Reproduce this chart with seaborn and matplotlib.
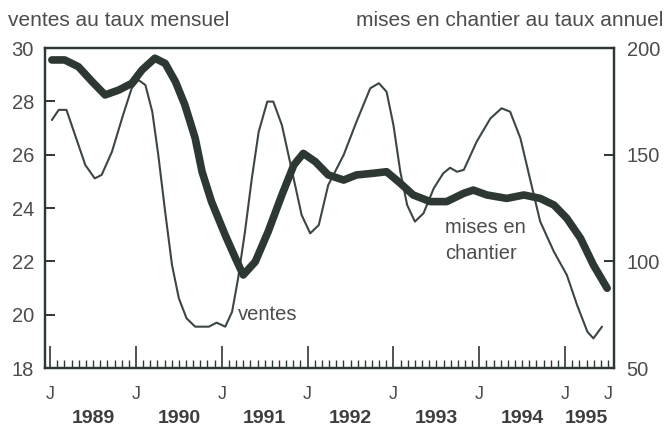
import numpy as np
import pandas as pd
import matplotlib
matplotlib.use("Agg")
import matplotlib.pyplot as plt
import matplotlib.ticker as mticker
import matplotlib.transforms as mtrans
import seaborn as sns

# -------------------------
# Données (années décimales)
# -------------------------
ventes_t = [1989.02, 1989.10, 1989.19, 1989.29, 1989.41, 1989.52, 1989.60, 1989.72,
            1989.85, 1989.95, 1990.03, 1990.11, 1990.19, 1990.26, 1990.34, 1990.42,
            1990.50, 1990.59, 1990.69, 1990.85, 1990.94, 1991.04, 1991.12, 1991.19,
            1991.27, 1991.35, 1991.43, 1991.53, 1991.60, 1991.70, 1991.82, 1991.93,
            1992.03, 1992.13, 1992.24, 1992.42, 1992.57, 1992.73, 1992.83, 1992.92,
            1993.00, 1993.08, 1993.16, 1993.25, 1993.35, 1993.47, 1993.58, 1993.66,
            1993.74, 1993.82, 1993.97, 1994.13, 1994.26, 1994.36, 1994.48, 1994.59,
            1994.71, 1994.87, 1995.02, 1995.14, 1995.26, 1995.33, 1995.43]
ventes = [27.30, 27.68, 27.68, 26.74, 25.61, 25.11, 25.24, 26.11,
          27.49, 28.49, 28.80, 28.61, 27.61, 25.99, 23.86, 21.86,
          20.61, 19.86, 19.55, 19.55, 19.70, 19.55, 20.11, 21.36,
          23.11, 25.11, 26.86, 27.99, 27.99, 27.11, 25.36, 23.74,
          23.05, 23.36, 24.86, 25.99, 27.24, 28.49, 28.68, 28.36,
          27.11, 25.36, 24.11, 23.49, 23.80, 24.74, 25.30, 25.51,
          25.36, 25.43, 26.49, 27.36, 27.74, 27.61, 26.61, 25.11,
          23.49, 22.36, 21.49, 20.36, 19.36, 19.11, 19.55]

mises_t = [1989.02, 1989.17, 1989.33, 1989.49, 1989.64, 1989.80, 1989.95, 1990.07,
           1990.22, 1990.34, 1990.46, 1990.57, 1990.69, 1990.77, 1990.88, 1991.04,
           1991.16, 1991.25, 1991.39, 1991.54, 1991.70, 1991.84, 1991.95, 1992.09,
           1992.24, 1992.42, 1992.57, 1992.77, 1992.92, 1993.08, 1993.23, 1993.43,
           1993.62, 1993.82, 1993.93, 1994.09, 1994.32, 1994.52, 1994.71, 1994.87,
           1995.02, 1995.18, 1995.33, 1995.49]
mises = [194.4, 194.4, 191.2, 184.2, 178.0, 180.3, 183.4, 189.7,
         195.2, 192.8, 184.2, 173.3, 157.7, 142.0, 128.0, 112.3,
         101.4, 93.6, 99.8, 113.9, 131.1, 145.2, 150.6, 146.7,
         140.5, 138.1, 140.5, 141.3, 142.0, 136.6, 131.1, 128.0,
         128.0, 131.9, 133.4, 131.1, 129.5, 131.1, 129.5, 126.4,
         120.2, 110.8, 98.3, 87.4]

ventes_ticks = [18, 20, 22, 24, 26, 28, 30]
mises_ticks = [50, 100, 150, 200]
annees = ["1989", "1990", "1991", "1992", "1993", "1994", "1995"]
annees_pos = [1989.5, 1990.5, 1991.5, 1992.5, 1993.5, 1994.5, 1995.25]
j_pos = [1989, 1990, 1991, 1992, 1993, 1994, 1995, 1995.5]

# -------------------------
# Style
# -------------------------
sns.set_theme(style="ticks")
plt.rcParams['font.family'] = ['Liberation Sans', 'DejaVu Sans']

LIGNE = "#2e3832"
FIN = "#3c4740"
TEXTE = "#4a4d4b"
FS = 14.5

W, H = 669, 429
fig = plt.figure(figsize=(W / 100, H / 100), dpi=100)
fig.patch.set_facecolor("white")
ax = fig.add_axes([45 / W, 1 - 368 / H, (614 - 45) / W, (368 - 48) / H])
ax2 = ax.twinx()

df_v = pd.DataFrame({"t": ventes_t, "v": ventes})
df_m = pd.DataFrame({"t": mises_t, "v": mises})
sns.lineplot(data=df_v, x="t", y="v", ax=ax, color=FIN, linewidth=1.5,
             sort=False, estimator=None, solid_joinstyle="round")
sns.lineplot(data=df_m, x="t", y="v", ax=ax2, color=LIGNE, linewidth=5.5,
             sort=False, estimator=None, solid_capstyle="round",
             solid_joinstyle="round")

ax.set_xlim(1988.94, 1995.57)
ax.set_ylim(18, 30)
ax2.set_ylim(50, 200)
ax.set_xlabel("")
ax.set_ylabel("")
ax2.set_ylabel("")

for a in (ax, ax2):
    for s in a.spines.values():
        s.set_visible(True)
        s.set_linewidth(1.6)
        s.set_color(LIGNE)

ax.set_yticks(ventes_ticks)
ax.set_yticklabels([str(v) for v in ventes_ticks])
ax2.set_yticks(mises_ticks)
ax2.set_yticklabels([str(v) for v in mises_ticks])

# J = janvier, graduations mensuelles
ax.set_xticks(j_pos[:-1])
ax.set_xticklabels(["J"] * (len(j_pos) - 1))
mois = [1989 + k / 12 for k in range(-1, 79)]
ax.xaxis.set_minor_locator(mticker.FixedLocator(mois))

ax.tick_params(axis="y", direction="in", length=7, width=1.4, color=LIGNE,
               labelsize=FS, labelcolor=TEXTE, pad=8)
ax2.tick_params(axis="y", direction="in", length=7, width=1.4, color=LIGNE,
                labelsize=FS, labelcolor=TEXTE, pad=9)
ax.tick_params(axis="x", which="major", direction="in", length=16, width=1.2,
               color=LIGNE, labelsize=13, labelcolor=TEXTE, pad=13)
ax.tick_params(axis="x", which="minor", direction="in", length=6, width=1.0,
               color=LIGNE)
ax.tick_params(axis="x", top=False, which="both")

trans = mtrans.blended_transform_factory(ax.transData, ax.transAxes)
# dernier J (juillet 1995), sans grand trait, aligné sur les autres
ax.text(j_pos[-1], -13 * 100 / 72 / 320, "J", transform=trans, ha="center",
        va="top", fontsize=13, color=TEXTE)
for lab, p in zip(annees, annees_pos):
    ax.text(p, -0.157, lab, transform=trans, ha="center", va="center",
            fontsize=14, fontweight="bold", color="#3b3e3c")

fig.text(8 / W, 1 - 20 / H, "ventes au taux mensuel", ha="left", va="center",
         fontsize=15, color=TEXTE)
fig.text(663 / W, 1 - 20 / H, "mises en chantier au taux annuel", ha="right",
         va="center", fontsize=15, color=TEXTE)

ax.text(1991.19, 20.0, "ventes", ha="left", va="center", fontsize=FS,
        color=TEXTE)
ax.text(1993.6, 22.78, "mises en\nchantier", ha="left", va="center",
        fontsize=FS, color=TEXTE, linespacing=1.45)

fig.savefig("out.png", dpi=100, facecolor="white")
